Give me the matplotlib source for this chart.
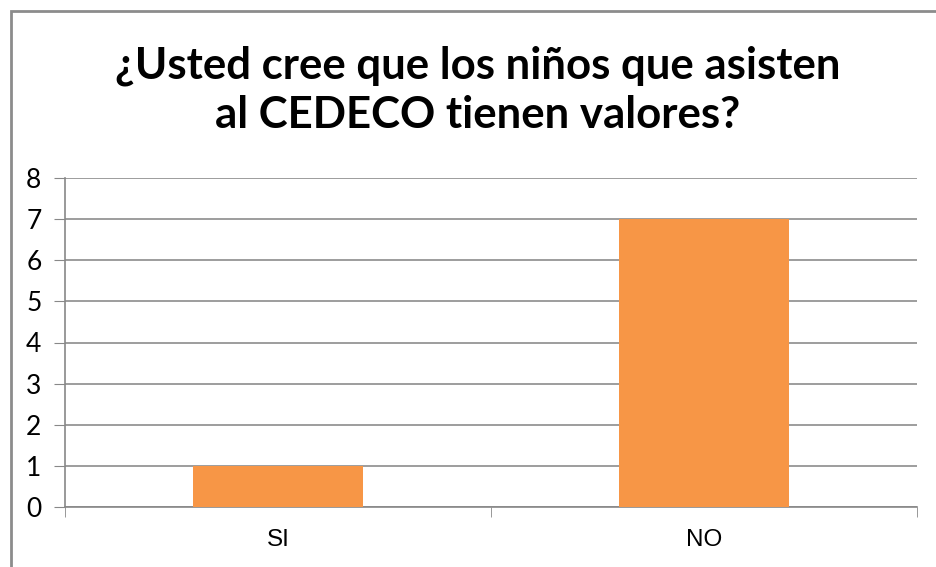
import matplotlib.pyplot as plt
from matplotlib.patches import Rectangle

# datos
categorias = ['SI', 'NO']
valores = [1, 7]
titulo = '¿Usted cree que los niños que asisten\nal CEDECO tienen valores?'

fig = plt.figure(figsize=(9.37, 5.67), dpi=100)
ax = fig.add_axes([65/937, 1 - 507/567, (917 - 65)/937, (507 - 178)/567])

ax.bar(range(len(categorias)), valores, width=0.4, color='#F79646', zorder=3)
ax.set_xlim(-0.5, len(categorias) - 0.5)
ax.set_ylim(0, 8)
ax.set_yticks(range(0, 9))
ax.set_xticks(range(len(categorias)))
ax.set_xticklabels(categorias, fontsize=17.5, family='Liberation Sans')
ax.set_xticks([-0.5, 0.5, 1.5], minor=True)
ax.tick_params(axis='x', which='major', length=0, pad=16)
ax.tick_params(axis='x', which='minor', length=7, color='#888888')
ax.tick_params(axis='y', length=8, color='#888888', labelsize=19, pad=9)
for lbl in ax.get_yticklabels():
    lbl.set_family('Lato')

ax.grid(axis='y', color='#959595', linewidth=1.3, zorder=0)
for s in ['top', 'right']:
    ax.spines[s].set_visible(False)
ax.spines['left'].set_color('#888888')
ax.spines['bottom'].set_color('#888888')
ax.spines['left'].set_linewidth(1.2)
ax.spines['bottom'].set_linewidth(1.2)

fig.text(478/937, 1 - 90/567, titulo, ha='center', va='center', fontsize=31.5,
         fontweight='bold', family='Lato', linespacing=1.27)

# borde del grafico
fig.patches.append(Rectangle((11/937, -0.05), 1.0, 1 - 11/567 + 0.05,
                             transform=fig.transFigure, fill=False,
                             edgecolor='#8c8c8c', linewidth=2))

fig.savefig('out.png', dpi=100)
